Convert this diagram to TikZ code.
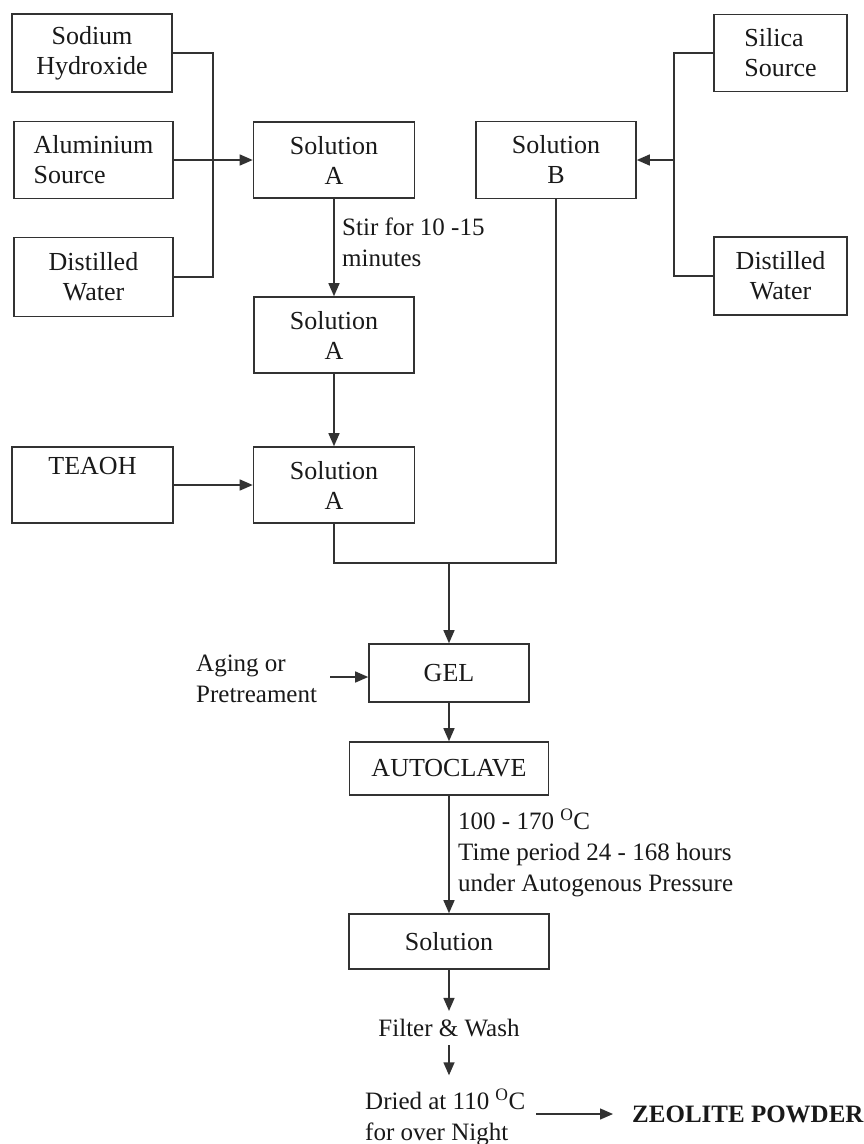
\documentclass[tikz,border=0pt]{standalone}
\usepackage{fontspec}
\setmainfont{Liberation Serif}
\usetikzlibrary{arrows.meta}
\definecolor{linec}{RGB}{50,50,50}
\definecolor{txtc}{RGB}{25,25,25}
\begin{document}
\begin{tikzpicture}[x=1pt,y=-1pt,
  box/.style={draw=linec, line width=1.6pt, inner sep=0pt, align=center, text=txtc,
              font=\fontsize{26}{30}\selectfont},
  lbl/.style={inner sep=0pt, text=txtc, font=\fontsize{25}{31}\selectfont},
  conn/.style={draw=linec, line width=1.4pt},
  arr/.style={conn, -{Triangle[length=13pt,width=11pt]}}]
\useasboundingbox[fill=white] (0,0) rectangle (864,1144);

% input boxes (left)
\node[box, minimum width=160pt, minimum height=78pt] (na) at (92,53) {Sodium\\Hydroxide};
\node[box, minimum width=159pt, minimum height=77pt, align=left] (al) at (93.5,160) {Aluminium\\Source};
\node[box, minimum width=159pt, minimum height=79pt] (dw1) at (93.5,277) {Distilled\\Water};
% solutions
\node[box, minimum width=161pt, minimum height=76pt] (sa1) at (334,160) {Solution\\A};
\node[box, minimum width=160pt, minimum height=77pt] (sb) at (556,160) {Solution\\B};
% input boxes (right)
\node[box, minimum width=133pt, minimum height=77pt, align=left] (si) at (780.5,53) {Silica\\Source};
\node[box, minimum width=133pt, minimum height=78pt] (dw2) at (780.5,276) {Distilled\\Water};
% middle column
\node[box, minimum width=160pt, minimum height=76pt] (sa2) at (334,335) {Solution\\A};
\node[box, minimum width=161pt, minimum height=76pt] (te) at (92.5,485) {TEAOH\\\strut};
\node[box, minimum width=161pt, minimum height=76pt] (sa3) at (334,485) {Solution\\A};
\node[box, minimum width=160pt, minimum height=58pt] (gel) at (449,673) {GEL};
\node[box, minimum width=199pt, minimum height=53pt] (ac) at (449,768.5) {AUTOCLAVE};
\node[box, minimum width=200pt, minimum height=55pt] (so) at (449,941.5) {Solution};

% free labels
\node[lbl, anchor=west, align=left] (stir) at (342,242) {Stir for 10 -15\\minutes};
\node[lbl, anchor=west, align=left] (ag) at (196,679) {Aging or\\Pretreament};
\node[lbl, anchor=west, align=left] (cond) at (458,853)
  {100 - 170 \textsuperscript{O}C\\Time period 24 - 168 hours\\under Autogenous Pressure};
\node[lbl, inner ysep=8pt] (fw) at (449,1028) {Filter \& Wash};
\node[lbl, anchor=west, align=left, inner xsep=0pt, inner ysep=13pt] (dr) at (365,1117)
  {Dried at 110 \textsuperscript{O}C\\for over Night};
\node[lbl, anchor=west, inner xsep=19pt, font=\fontsize{25}{31}\selectfont\bfseries] (zp) at (613,1114) {ZEOLITE POWDER};

% left bus
\coordinate (bl) at (213,0);
\draw[conn] (na.east) -- (na.east -| bl) -- (dw1.east -| bl) -- (dw1.east);
\draw[arr] (al.east) -- (sa1.west);
% right bus
\coordinate (br) at (674,0);
\draw[conn] (si.west) -- (si.west -| br) -- (dw2.west -| br) -- (dw2.west);
\draw[arr] (sb.east -| br) -- (sb.east);

% solution A chain
\draw[arr] (sa1.south) -- (sa2.north);
\draw[arr] (sa2.south) -- (sa3.north);
\draw[arr] (te.east) -- (sa3.west);

% merge into gel
\coordinate (mj) at (449,563);
\draw[conn] (sa3.south) |- (mj) -| (sb.south);
\draw[arr] (mj) -- (gel.north);
\coordinate (ags) at (330,677);
\draw[arr] (ags) -- (ags -| gel.west);

% lower chain
\draw[arr] (gel.south) -- (ac.north);
\draw[arr] (ac.south) -- (so.north);
\draw[arr] (so.south) -- (fw.north);
\draw[arr] (fw.south) -- (fw.south |- dr.north);
\coordinate (z1) at (536,1114);
\draw[arr] (z1) -- (zp.west);
\end{tikzpicture}
\end{document}
